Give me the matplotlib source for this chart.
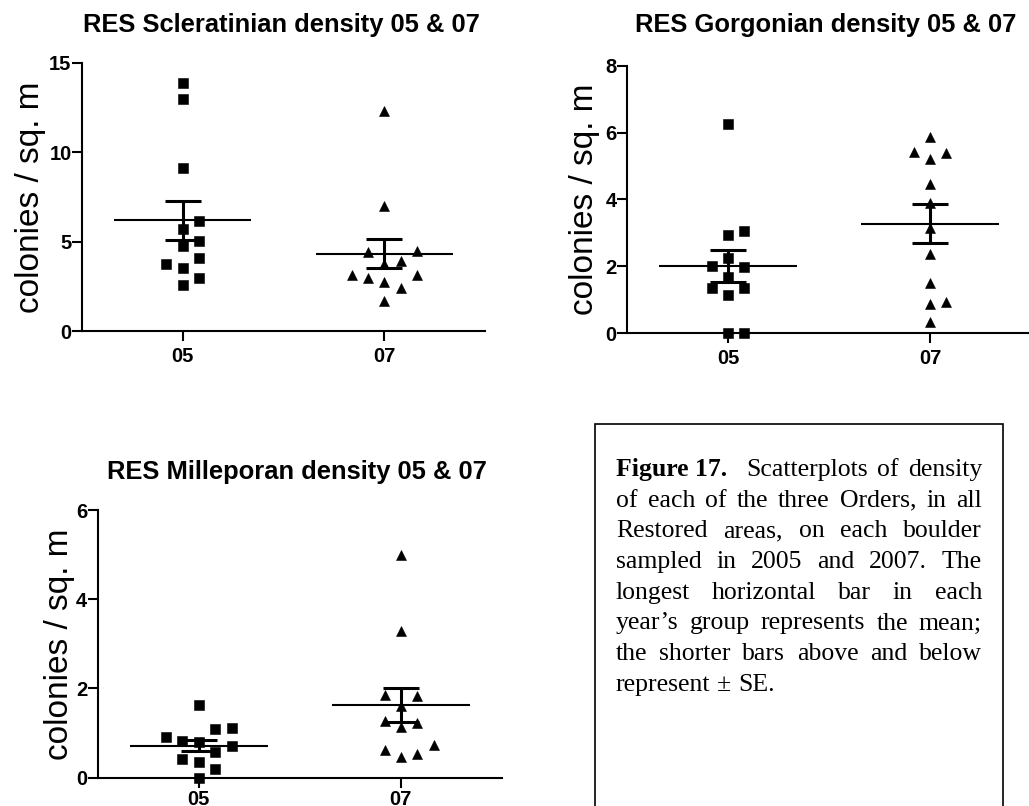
import numpy as np
import matplotlib
matplotlib.use("Agg")
import matplotlib.pyplot as plt
from matplotlib.patches import Rectangle

# ---------------- data ----------------
groups = ["05", "07"]

scler_05 = [13.86, 12.98, 9.10, 6.16, 5.69, 5.04, 4.76, 4.07, 3.75, 3.51, 2.98, 2.57]
scler_07 = [12.33, 7.01, 4.49, 4.44, 3.93, 3.73, 3.13, 3.13, 2.95, 2.76, 2.42, 1.70]
gorg_05 = [6.25, 3.06, 2.94, 2.24, 2.02, 1.97, 1.69, 1.36, 1.36, 1.14, 0.0, 0.0]
gorg_07 = [5.86, 5.41, 5.38, 5.20, 4.46, 3.89, 3.14, 2.37, 1.49, 0.95, 0.87, 0.35]
mille_05 = [1.63, 1.12, 1.09, 0.92, 0.83, 0.79, 0.70, 0.58, 0.41, 0.36, 0.19, 0.0]
mille_07 = [4.99, 3.29, 1.85, 1.83, 1.61, 1.28, 1.23, 1.14, 0.73, 0.62, 0.53, 0.46]

titles = ["RES Scleratinian density 05 & 07",
          "RES Gorgonian density 05 & 07",
          "RES Milleporan density 05 & 07"]
ylabel = "colonies / sq. m"
y_max = [15, 8, 6]
y_ticks = [[0, 5, 10, 15], [0, 2, 4, 6, 8], [0, 2, 4, 6]]

caption_bold = "Figure 17."
caption_lines = [
    "Figure 17.  Scatterplots of density",
    "of each of the three Orders, in all",
    "Restored areas, on each boulder",
    "sampled in 2005 and 2007. The",
    "longest horizontal bar in each",
    "year\u2019s group represents the mean;",
    "the shorter bars above and below",
    "represent \u00b1 SE.",
]

# ---------------- layout ----------------
W, H = 1029, 806
fig = plt.figure(figsize=(W / 100, H / 100), dpi=100)
fig.patch.set_facecolor("white")


def fx(px):
    return px / W


def fy(py):
    return 1 - py / H


def add_ax(left, right, top, bottom):
    return fig.add_axes([fx(left), fy(bottom), (right - left) / W, (bottom - top) / H])


SANS = "Liberation Sans"
SERIF = "Liberation Serif"


def swarm(values, ppu, thresh_px=15.5, step=0.081):
    vals = np.asarray(values, dtype=float)
    order = np.argsort(vals, kind="stable")
    placed = []
    slots = np.zeros(len(vals))
    for i in order:
        v = vals[i]
        chosen = 0
        for s in [0, 1, -1, 2, -2, 3, -3, 4, -4]:
            if all(abs(v - pv) * ppu >= thresh_px for pv, ps in placed if ps == s):
                chosen = s
                break
        placed.append((v, chosen))
        slots[i] = chosen
    return slots * step


def draw_panel(ax, d05, d07, title, ymax, ticks, ylab_x, title_base_px, title_cx_px,
               xpad=4.5):
    ax.set_xlim(-0.5, 1.5)
    ax.set_ylim(0, ymax)
    fig.canvas.draw()
    ppu = ax.get_window_extent().height / ymax
    for xi, (data, mk, ms) in enumerate([(d05, "s", 7.2), (d07, "^", 7.8)]):
        vals = np.asarray(data, dtype=float)
        offs = swarm(vals, ppu)
        ax.plot(xi + offs, vals, linestyle="none", marker=mk, markersize=ms,
                color="black", markeredgewidth=0.4, clip_on=False, zorder=3)
        m = vals.mean()
        se = vals.std(ddof=1) / np.sqrt(len(vals))
        ax.hlines(m, xi - 0.34, xi + 0.34, color="black", lw=1.5, zorder=4)
        ax.vlines(xi, m - se, m + se, color="black", lw=2.2, zorder=4)
        ax.hlines([m - se, m + se], xi - 0.09, xi + 0.09, color="black", lw=2.2, zorder=4)
    for s in ["top", "right"]:
        ax.spines[s].set_visible(False)
    for s in ["left", "bottom"]:
        ax.spines[s].set_linewidth(1.5)
    ax.set_xticks([0, 1])
    ax.set_xticklabels(groups)
    ax.set_yticks(ticks)
    ax.tick_params(axis="both", direction="out", length=7, width=1.5,
                   labelsize=14.5)
    ax.tick_params(axis="y", pad=0.5)
    ax.tick_params(axis="x", pad=xpad)
    for lab in ax.get_xticklabels() + ax.get_yticklabels():
        lab.set_fontweight("bold")
        lab.set_fontfamily(SANS)
    ax.text(ylab_x, 0.5, ylabel, transform=ax.transAxes, rotation=90,
            ha="center", va="center", fontsize=24, family=SANS)
    fig.text(fx(title_cx_px), fy(title_base_px), title, ha="center", va="baseline",
             fontsize=18.4, fontweight="bold", family=SANS)


ax1 = add_ax(82, 485, 63, 331)
draw_panel(ax1, scler_05, scler_07, titles[0], y_max[0], y_ticks[0], -0.127, 32.3, 281)

ax2 = add_ax(627, 1031, 65.7, 333.3)
draw_panel(ax2, gorg_05, gorg_07, titles[1], y_max[1], y_ticks[1], -0.104, 32.3, 826)

ax3 = add_ax(97.7, 502, 510, 777.7)
draw_panel(ax3, mille_05, mille_07, titles[2], y_max[2], y_ticks[2], -0.095, 479.3, 297,
           xpad=2.0)

# ---------------- caption box ----------------
fig.add_artist(Rectangle((fx(595), fy(840)), (1003 - 595) / W, (840 - 424) / H,
                         transform=fig.transFigure, fill=False, lw=1.2,
                         edgecolor="black", clip_on=False))

cap_fs = 18.5
x_left, x_right = 616, 982
base0, lead = 476, 30.7
renderer = fig.canvas.get_renderer()


def text_w(s, weight="normal"):
    t = fig.text(0, 0, s, fontsize=cap_fs, family=SERIF, weight=weight)
    w = t.get_window_extent(renderer).width
    t.remove()
    return w


space_w = text_w("a b") - text_w("ab")

for i, line in enumerate(caption_lines):
    if i == 0 and line.startswith(caption_bold):
        rest = line[len(caption_bold):]
        words = rest.split()
        tokens = [(caption_bold, "bold", 0)] + [(w, "normal", 2 if k == 0 else 1)
                                                for k, w in enumerate(words)]
    else:
        tokens = [(w, "normal", 0 if k == 0 else 1) for k, w in enumerate(line.split())]
    ypos = fy(base0 + i * lead)
    texts = [fig.text(0, ypos, w, fontsize=cap_fs, family=SERIF, weight=wt,
                      ha="left", va="baseline") for w, wt, g in tokens]
    widths = [t.get_window_extent(renderer).width for t in texts]
    total_g = sum(g for _, _, g in tokens)
    if i == len(caption_lines) - 1 or total_g == 0:
        unit = space_w
    else:
        unit = ((x_right - x_left) - sum(widths)) / total_g
    x = x_left
    for t, wdt, (_, _, g) in zip(texts, widths, tokens):
        x += g * unit
        t.set_x(fx(x))
        x += wdt

fig.savefig("out.png", dpi=100, facecolor="white")
